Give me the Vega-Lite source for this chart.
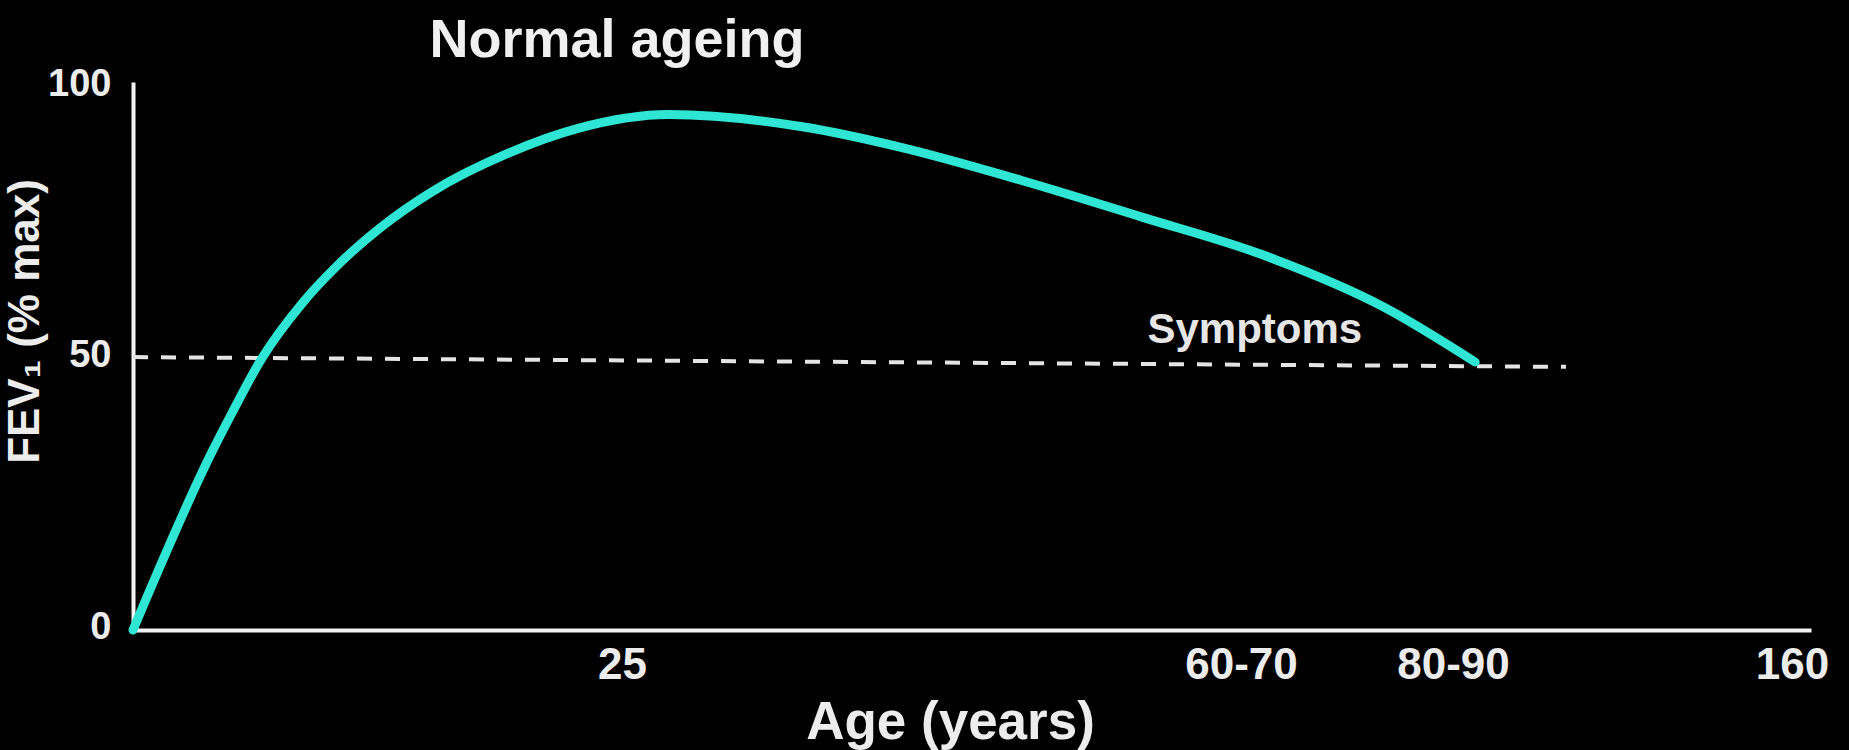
{
  "$schema": "https://vega.github.io/schema/vega-lite/v6.json",
  "width": 1678,
  "height": 548,
  "autosize": {"type": "none"},
  "padding": {"left": 133, "top": 82, "right": 38, "bottom": 120},
  "background": "#000000",
  "config": {
    "view": {"stroke": null},
    "font": "Liberation Sans",
    "axis": {
      "grid": false,
      "ticks": false,
      "tickSize": 0,
      "domainColor": "#f2f2f2",
      "domainWidth": 4,
      "labelColor": "#ececec",
      "labelFont": "Liberation Sans",
      "labelFontWeight": "bold",
      "titleColor": "#ececec",
      "titleFont": "Liberation Sans",
      "titleFontWeight": "bold"
    }
  },
  "title": {
    "text": "Normal ageing",
    "fontSize": 54,
    "fontWeight": "bold",
    "color": "#f0f0f0",
    "font": "Liberation Sans",
    "anchor": "start",
    "align": "center",
    "frame": "group",
    "dx": 484,
    "dy": 46,
    "baseline": "alphabetic",
    "offset": 0
  },
  "layer": [
    {
      "data": {
        "values": [
          {"age": 0, "fev": 50.3},
          {"age": 110, "fev": 48.5}
        ]
      },
      "mark": {"type": "line", "color": "#e4e4e4", "strokeWidth": 4, "strokeDash": [15, 13]},
      "encoding": {
        "x": {
          "field": "age",
          "type": "quantitative",
          "scale": {"domain": [0, 25, 65, 85, 160, 162], "range": [0, 489, 1108, 1320, 1659, 1678], "zero": false, "nice": false, "clamp": false},
          "axis": {
            "values": [25, 65, 85, 160],
            "labelExpr": "datum.value == 65 ? '60-70' : datum.value == 85 ? '80-90' : datum.label",
            "labelFontSize": 44,
            "labelPadding": 13,
            "title": "Age (years)",
            "titleFontSize": 53,
            "titleX": 817,
            "titleY": 108,
            "titleAlign": "center",
            "titleBaseline": "alphabetic"
          }
        },
        "y": {
          "field": "fev",
          "type": "quantitative",
          "scale": {"domain": [0, 101], "nice": false, "zero": true},
          "axis": {
            "values": [0, 50, 100],
            "labelFontSize": 38,
            "labelPadding": 22,
            "labelBaseline": "middle",
            "labelOffset": -3,
            "title": "FEV₁ (% max)",
            "titleFontSize": 44,
            "titleX": -108,
            "titleY": 239,
            "titleAngle": -90,
            "titleAlign": "center",
            "titleBaseline": "middle"
          }
        }
      }
    },
    {
      "data": {
        "values": [
          {"age": 0, "fev": 0},
          {"age": 4.09, "fev": 33.2},
          {"age": 5.06, "fev": 40.0},
          {"age": 6.54, "fev": 49.8},
          {"age": 8.69, "fev": 60.4},
          {"age": 10.48, "fev": 67.3},
          {"age": 12.63, "fev": 74.1},
          {"age": 15.34, "fev": 80.9},
          {"age": 19.07, "fev": 87.7},
          {"age": 22.8, "fev": 92.5},
          {"age": 28.0, "fev": 95.0},
          {"age": 36.76, "fev": 92.7},
          {"age": 42.96, "fev": 89.0},
          {"age": 50.78, "fev": 82.9},
          {"age": 58.6, "fev": 76.1},
          {"age": 67.1, "fev": 69.1},
          {"age": 78.5, "fev": 59.5},
          {"age": 89.9, "fev": 49.4}
        ]
      },
      "mark": {"type": "line", "color": "#2ee6d3", "strokeWidth": 9, "interpolate": "monotone", "strokeCap": "round"},
      "encoding": {
        "x": {"field": "age", "type": "quantitative"},
        "y": {"field": "fev", "type": "quantitative"}
      }
    },
    {
      "data": {"values": [{"age": 66.3, "fev": 55.3, "label": "Symptoms"}]},
      "mark": {"type": "text", "color": "#e6e6e6", "fontSize": 42, "fontWeight": "bold", "font": "Liberation Sans", "align": "center", "baseline": "middle"},
      "encoding": {
        "x": {"field": "age", "type": "quantitative"},
        "y": {"field": "fev", "type": "quantitative"},
        "text": {"field": "label"}
      }
    }
  ]
}
